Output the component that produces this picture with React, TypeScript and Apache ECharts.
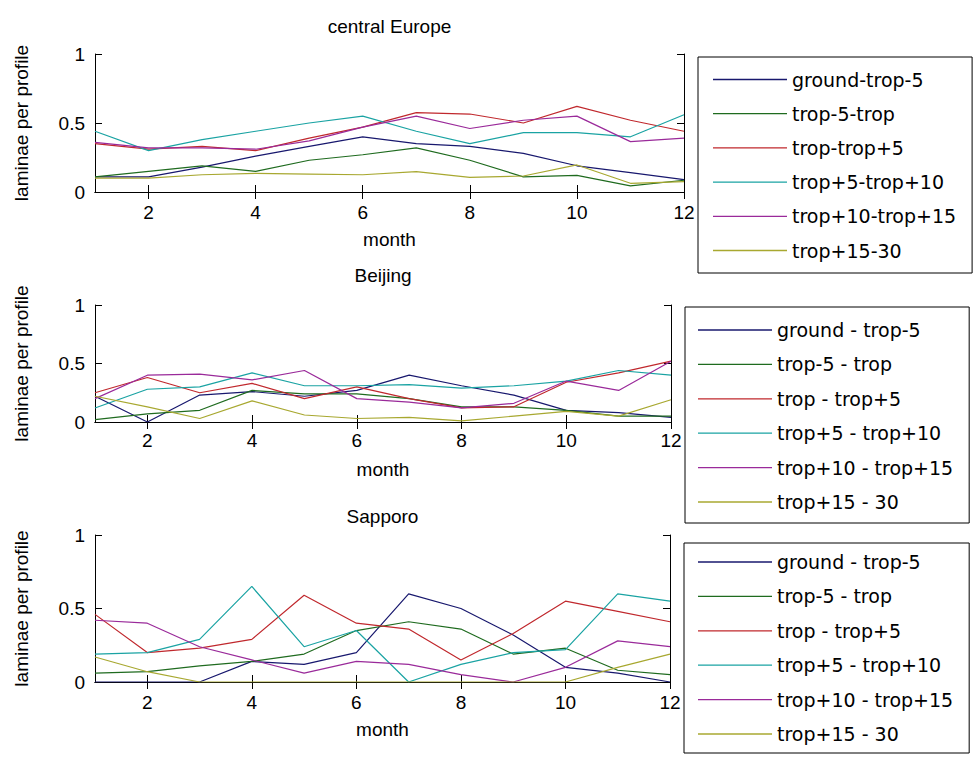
import React, { useEffect, useRef } from "react";
import * as echarts from "echarts";

// Monthly laminae counts per atmospheric layer, three stations
const months = [1, 2, 3, 4, 5, 6, 7, 8, 9, 10, 11, 12];
const xTickValues = [2, 4, 6, 8, 10, 12];

const titles = ["central Europe", "Beijing", "Sapporo"];

const layerNamesCompact = [
  "ground-trop-5",
  "trop-5-trop",
  "trop-trop+5",
  "trop+5-trop+10",
  "trop+10-trop+15",
  "trop+15-30",
];
const layerNamesSpaced = [
  "ground - trop-5",
  "trop-5 - trop",
  "trop - trop+5",
  "trop+5 - trop+10",
  "trop+10 - trop+15",
  "trop+15 - 30",
];

const layerColors = ["#18186e", "#1f6b1f", "#c0282d", "#1aa3a3", "#9a2a9a", "#a8a830"];

// central Europe
const ceGroundTrop5 = [0.11, 0.11, 0.18, 0.26, 0.33, 0.4, 0.35, 0.33, 0.28, 0.19, 0.14, 0.09];
const ceTrop5Trop = [0.11, 0.15, 0.19, 0.15, 0.23, 0.27, 0.32, 0.23, 0.11, 0.12, 0.045, 0.085];
const ceTropTrop5 = [0.35, 0.31, 0.33, 0.3, 0.39, 0.47, 0.575, 0.565, 0.5, 0.62, 0.52, 0.44];
const ceTrop5Trop10 = [0.44, 0.3, 0.38, 0.44, 0.5, 0.55, 0.44, 0.35, 0.43, 0.43, 0.4, 0.56];
const ceTrop10Trop15 = [0.36, 0.32, 0.32, 0.31, 0.37, 0.47, 0.55, 0.46, 0.52, 0.55, 0.365, 0.39];
const ceTrop15To30 = [0.1, 0.1, 0.125, 0.135, 0.13, 0.125, 0.147, 0.106, 0.116, 0.196, 0.063, 0.075];

// Beijing
const bjGroundTrop5 = [0.22, 0.0, 0.23, 0.26, 0.22, 0.27, 0.4, 0.31, 0.23, 0.1, 0.08, 0.04];
const bjTrop5Trop = [0.02, 0.07, 0.1, 0.27, 0.24, 0.24, 0.2, 0.13, 0.13, 0.1, 0.05, 0.05];
const bjTropTrop5 = [0.25, 0.38, 0.25, 0.33, 0.2, 0.3, 0.2, 0.12, 0.13, 0.34, 0.42, 0.52];
const bjTrop5Trop10 = [0.12, 0.28, 0.3, 0.42, 0.31, 0.31, 0.32, 0.29, 0.31, 0.35, 0.44, 0.4];
const bjTrop10Trop15 = [0.2, 0.4, 0.41, 0.36, 0.44, 0.2, 0.17, 0.12, 0.16, 0.35, 0.27, 0.52];
const bjTrop15To30 = [0.22, 0.13, 0.03, 0.18, 0.06, 0.03, 0.04, 0.01, 0.05, 0.09, 0.05, 0.19];

// Sapporo
const spGroundTrop5 = [0.0, 0.0, 0.0, 0.14, 0.12, 0.2, 0.6, 0.5, 0.32, 0.1, 0.06, 0.0];
const spTrop5Trop = [0.06, 0.07, 0.11, 0.14, 0.19, 0.35, 0.41, 0.36, 0.19, 0.23, 0.08, 0.05];
const spTropTrop5 = [0.46, 0.2, 0.23, 0.29, 0.59, 0.4, 0.36, 0.15, 0.33, 0.55, 0.48, 0.41];
const spTrop5Trop10 = [0.19, 0.2, 0.29, 0.65, 0.24, 0.35, 0.0, 0.12, 0.2, 0.22, 0.6, 0.55];
const spTrop10Trop15 = [0.42, 0.4, 0.24, 0.15, 0.06, 0.14, 0.12, 0.05, 0.0, 0.1, 0.28, 0.24];
const spTrop15To30 = [0.17, 0.07, 0.0, 0.0, 0.0, 0.0, 0.0, 0.0, 0.0, 0.0, 0.1, 0.19];

const stationSeries = [
  [ceGroundTrop5, ceTrop5Trop, ceTropTrop5, ceTrop5Trop10, ceTrop10Trop15, ceTrop15To30],
  [bjGroundTrop5, bjTrop5Trop, bjTropTrop5, bjTrop5Trop10, bjTrop10Trop15, bjTrop15To30],
  [spGroundTrop5, spTrop5Trop, spTropTrop5, spTrop5Trop10, spTrop10Trop15, spTrop15To30],
];
const stationLegendNames = [layerNamesCompact, layerNamesSpaced, layerNamesSpaced];

const AXIS_FONT = "'Liberation Sans', Arial, Helvetica, sans-serif";
const LEGEND_FONT = "'DejaVu Sans', Verdana, sans-serif";

// panel layout in pixels
const panels = [
  { left: 95, top: 54, width: 589, height: 138, titleY: 17, labelMargin: 11 },
  { left: 95, top: 305, width: 576, height: 117, titleY: 266, labelMargin: 9 },
  { left: 95, top: 535, width: 575, height: 147, titleY: 507, labelMargin: 11 },
];
const legendBoxes = [
  { left: 698, top: 57, padding: [12.5, 16, 12.5, 15], gap: 14.2 },
  { left: 685, top: 307, padding: [13, 16, 11, 13], gap: 14.4 },
  { left: 684, top: 543, padding: [9, 16, 9, 14], gap: 14.4 },
];

export default function App() {
  const ref = useRef<HTMLDivElement>(null);

  useEffect(() => {
    if (!ref.current) return;
    const chart = echarts.init(ref.current, undefined, { renderer: "svg" });

    const black = "#000";
    const tickStyle = { color: black, width: 1 };
    const axisLineStyle = { show: true, lineStyle: { color: black, width: 1 } };

    const grid = panels.map((p) => ({
      left: p.left,
      top: p.top,
      width: p.width,
      height: p.height,
      containLabel: false,
    }));

    const xAxis: any[] = [];
    const yAxis: any[] = [];
    panels.forEach((p, i) => {
      xAxis.push({
        gridIndex: i,
        type: "value",
        min: 1,
        max: 12,
        position: "bottom",
        axisLine: axisLineStyle,
        axisTick: { show: true, inside: true, length: 7, customValues: xTickValues, lineStyle: tickStyle },
        axisLabel: {
          customValues: xTickValues,
          margin: p.labelMargin,
          color: black,
          fontSize: 19,
          fontFamily: AXIS_FONT,
        },
        splitLine: { show: false },
        name: "month",
        nameLocation: "middle",
        nameGap: 38,
        nameTextStyle: { color: black, fontSize: 19, fontFamily: AXIS_FONT },
      });
      xAxis.push({
        gridIndex: i,
        type: "value",
        min: 1,
        max: 12,
        position: "top",
        axisLine: axisLineStyle,
        axisTick: { show: true, inside: true, length: 7, customValues: xTickValues, lineStyle: tickStyle },
        axisLabel: { show: false },
        splitLine: { show: false },
      });
      yAxis.push({
        gridIndex: i,
        type: "value",
        min: 0,
        max: 1,
        interval: 0.5,
        position: "left",
        axisLine: axisLineStyle,
        axisTick: { show: true, inside: true, length: 7, lineStyle: tickStyle },
        axisLabel: { margin: 10, color: black, fontSize: 19, fontFamily: AXIS_FONT },
        splitLine: { show: false },
        name: "laminae per profile",
        nameLocation: "middle",
        nameGap: 64,
        nameTextStyle: { color: black, fontSize: 19, fontFamily: AXIS_FONT },
      });
      yAxis.push({
        gridIndex: i,
        type: "value",
        min: 0,
        max: 1,
        interval: 0.5,
        position: "right",
        axisLine: axisLineStyle,
        axisTick: { show: true, inside: true, length: 7, lineStyle: tickStyle },
        axisLabel: { show: false },
        splitLine: { show: false },
      });
    });

    const series: any[] = [];
    stationSeries.forEach((layers, i) => {
      layers.forEach((vals, k) => {
        series.push({
          type: "line",
          name: stationLegendNames[i][k],
          xAxisIndex: 2 * i,
          yAxisIndex: 2 * i,
          data: months.map((m, j) => [m, vals[j]]),
          symbol: "none",
          showSymbol: false,
          lineStyle: { color: layerColors[k], width: 1.2 },
          itemStyle: { color: layerColors[k] },
          emphasis: { disabled: true },
          z: 2,
        });
      });
    });

    // legend swatches are thin rectangles, i.e. plain line samples
    const legend = legendBoxes.map((b, i) => ({
      data: stationLegendNames[i],
      orient: "vertical",
      left: b.left,
      top: b.top,
      padding: b.padding,
      icon: "rect",
      itemWidth: 74,
      itemHeight: 1.3,
      itemGap: b.gap,
      borderColor: black,
      borderWidth: 1,
      backgroundColor: "#fff",
      selectedMode: false,
      textStyle: { color: black, fontSize: 19, fontFamily: LEGEND_FONT, lineHeight: 20 },
    }));

    const title = panels.map((p, i) => ({
      text: titles[i],
      left: p.left + p.width / 2,
      top: p.titleY,
      textAlign: "center",
      padding: 0,
      textStyle: { color: black, fontSize: 19, fontWeight: "normal", fontFamily: AXIS_FONT },
    }));

    chart.setOption({
      animation: false,
      backgroundColor: "#fff",
      title,
      grid,
      xAxis,
      yAxis,
      legend,
      series,
    });

    return () => chart.dispose();
  }, []);

  return (
    <div
      ref={ref}
      style={{ position: "fixed", left: 0, top: 0, width: 979, height: 758, background: "#fff" }}
    />
  );
}
